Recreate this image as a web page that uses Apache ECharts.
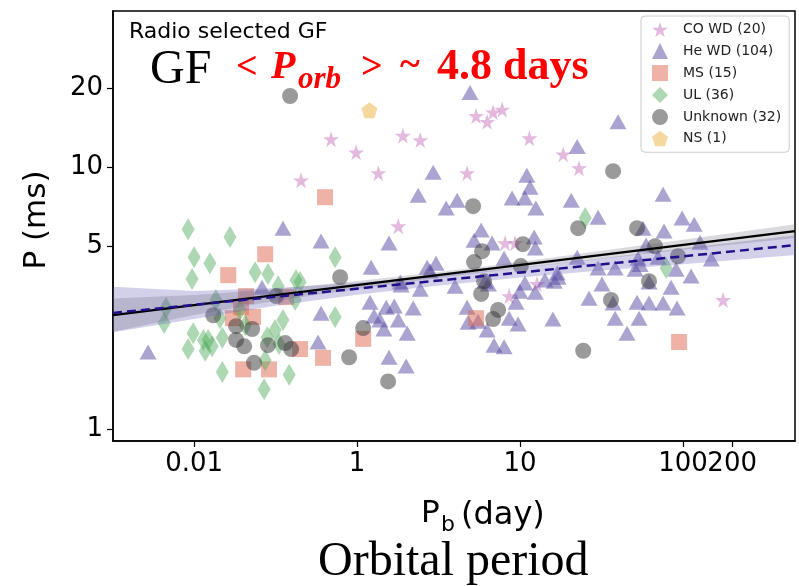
<!DOCTYPE html>
<html><head><meta charset="utf-8">
<script src="https://cdn.jsdelivr.net/npm/echarts@6/dist/echarts.min.js"></script>
<style>html,body{margin:0;padding:0;background:#fff}#c{width:799px;height:586px}</style>
</head><body><div id="c"></div>
<script>
// ---- axis ticks ----
const xTickValues = [0.1, 1, 10, 100];
const xTickLabels = ['0.01', '1', '10', '100'];
const xExtraTickValues = [200];
const xExtraTickLabels = ['200'];
const yTickValues = [1, 5, 10, 20];

// ---- legend names ----
const seriesNames = ['CO WD (20)', 'He WD (104)', 'MS (15)', 'UL (36)', 'Unknown (32)', 'NS (1)'];

// ---- data: [Pb (day), P (ms)] ----
const coWD = [[0.453,8.91],[0.692,12.8],[0.986,11.4],[1.35,9.49],[1.91,13.2],[2.44,12.7],[1.79,5.95],[4.73,9.49],[5.37,15.7],[6.28,14.9],[6.83,16.2],[7.76,16.6],[11.4,12.9],[18.4,11.2],[23.0,9.91],[8.09,5.13],[9.32,5.13],[12.7,3.58],[8.57,3.22],[176,3.11]];
const heWD = [[0.0522,1.97],[0.261,3.48],[0.351,5.85],[0.601,5.22],[0.601,2.77],[0.576,2.15],
[4.93,19.3],[2.93,9.57],[2.37,7.82],[3.52,6.98],[4.11,7.48],[1.57,5.13],[11.0,9.32],[11.5,8.39],[8.93,7.62],[10.7,7.62],[12.5,6.98],[20.6,7.48],[22.4,12.0],[30.1,6.44],[39.9,14.9],[5.77,5.75],[5.22,5.26],[6.73,5.13],[12.2,5.41],[12.4,4.91],
[1.22,4.15],[1.84,3.64],[2.44,3.42],[2.69,4.15],[3.05,4.30],[3.99,3.51],[6.10,3.67],[7.98,4.49],[10.7,3.61],[12.4,3.33],[14.2,3.71],[16.2,3.67],[16.9,3.94],[22.4,4.53],[30.1,4.12],[31.8,3.58],[26.5,3.16],[38.3,2.65],
[1.20,3.05],[1.51,2.92],[1.69,2.95],[1.27,2.70],[1.38,2.61],[1.79,2.61],[2.21,2.90],[1.46,2.41],[2.03,2.32],[1.57,1.88],[2.00,1.74],[4.73,2.92],[4.80,2.56],[6.28,2.39],[8.57,2.65],[9.72,2.52],[6.92,2.09],[7.98,2.06],[15.9,2.63],[9.45,3.05],
[75.4,7.89],[56.8,5.85],[76.4,5.70],[117,6.06],[127,5.17],[149,4.46],[59.3,5.04],[52.9,4.49],[70.3,4.53],[38.3,4.12],[50.8,4.08],[90.6,4.08],[112,3.84],[61.8,3.64],[84.4,3.48],[37.2,3.03],[52.2,3.05],[61.8,3.03],[75.4,3.03],[91.8,2.90],[53.7,2.65],[45.3,2.32],
[1.86,3.55],[2.80,4.02],[6.39,3.58],[5.52,2.58],[9.96,3.36],[17.1,3.80],[98.6,6.39],[54.5,4.25]];
const ms = [[0.636,7.68],[0.273,4.65],[0.162,3.87],[0.208,3.22],[0.194,2.92],[0.230,2.68],[0.173,2.65],[0.367,3.19],[0.447,2.02],[0.618,1.87],[0.200,1.69],[0.288,1.69],[1.09,2.21],[5.37,2.65],[94.5,2.15]];
const ul = [[0.0919,5.80],[0.166,5.41],[0.100,4.53],[0.125,4.30],[0.0972,3.74],[0.237,3.97],[0.284,3.91],[0.422,3.71],[0.328,3.51],[0.733,4.53],[0.136,3.11],[0.0673,2.90],[0.0655,2.54],[0.417,3.11],[0.0986,2.32],[0.0919,2.02],[0.117,1.99],[0.122,2.19],[0.129,2.07],[0.149,2.23],[0.144,2.65],[0.206,2.49],[0.314,2.39],[0.281,2.24],[0.332,2.11],[0.733,2.68],[0.149,1.65],[0.273,1.83],[0.383,1.61],[0.269,1.42],[25.1,6.39],[78.7,4.12],[0.447,3.64],[0.191,2.85],[0.351,2.61],[0.114,2.19]];
const unknown = [[0.388,18.7],[0.131,2.72],[0.181,2.47],[0.227,2.41],[0.181,2.19],[0.203,2.07],[0.284,2.09],[0.319,3.22],[0.362,2.13],[0.394,2.02],[0.233,1.79],[0.787,3.80],[0.893,1.88],[1.09,2.43],
[5.15,7.10],[1.55,1.52],[5.85,4.78],[5.22,4.34],[6.01,3.67],[5.77,3.28],[10.4,5.08],[10.1,4.19],[7.33,2.85],[6.83,2.63],[22.7,5.85],[24.4,1.99],[37.2,9.66],
[52.2,5.85],[67.3,4.99],[93.1,4.57],[61.8,3.67],[36.1,3.11]];
const ns = [[1.19,16.5]];

// ---- fits (endpoints) and confidence bands ----
const fitX = [0.0318, 486];
const fitAll = [2.724, 5.703];
const fitGF = [2.776, 5.038];
const bandX = [0.03, 0.1, 0.3, 1, 3, 10, 30, 100, 500];
const bandGFUpper = [3.50, 3.37, 3.451, 3.622, 3.843, 4.140, 4.470, 4.901, 5.512];
const bandGFLower = [2.33, 2.634, 2.946, 3.260, 3.518, 3.793, 4.023, 4.259, 4.623];
const bandAllUpper = [3.149, 3.248, 3.411, 3.675, 3.964, 4.347, 4.771, 5.278, 6.076];
const bandAllLower = [2.335, 2.724, 3.069, 3.425, 3.760, 4.123, 4.446, 4.834, 5.373];

const SANS = "'DejaVu Sans', sans-serif";
const SERIF = "'Liberation Serif', 'DejaVu Serif', serif";
const starPath = 'path://M50,0 L61.8,35.1 L98.9,35.1 L68.8,56.8 L79.4,91.9 L50,70.2 L20.6,91.9 L31.2,56.8 L1.1,35.1 L38.2,35.1 Z';
const pentPath = 'path://M50,0 L97.6,34.5 L79.4,90.5 L20.6,90.5 L2.4,34.5 Z';

function bandSeries(up, lo, color) {
  return {
    type: 'custom', clip: true, silent: true, z: 3,
    data: [[bandX[0], up[0]]],
    renderItem: function (params, api) {
      const pts = [];
      for (let i = 0; i < bandX.length; i++) pts.push(api.coord([bandX[i], up[i]]));
      for (let i = bandX.length - 1; i >= 0; i--) pts.push(api.coord([bandX[i], lo[i]]));
      return { type: 'polygon', shape: { points: pts }, style: { fill: color } };
    }
  };
}

function scatter(name, data, symbol, size, color) {
  return { type: 'scatter', name: name, data: data, symbol: symbol, symbolSize: size,
    itemStyle: { color: color }, z: 2 };
}

function labelFor(values, labels) {
  return function (v) {
    for (let i = 0; i < values.length; i++) {
      if (Math.abs(v - values[i]) / values[i] < 1e-6) return labels[i];
    }
    return '';
  };
}

function xAxisDef(ticks, labels, showLine) {
  return {
    type: 'log', min: 0.0318, max: 486, position: 'bottom',
    axisLine: { show: showLine, lineStyle: { color: '#000', width: 1.5 } },
    axisTick: { show: true, length: 6, lineStyle: { color: '#000', width: 1.2 }, customValues: ticks },
    axisLabel: { show: true, customValues: ticks, margin: 10, color: '#000', fontSize: 26, fontFamily: SANS,
      hideOverlap: false, formatter: labelFor(ticks, labels) },
    splitLine: { show: false }, minorTick: { show: false }
  };
}

const chart = echarts.init(document.getElementById('c'), null, { renderer: 'canvas' });
chart.setOption({
  animation: false,
  backgroundColor: '#fff',
  grid: { left: 113, right: 4, top: 11, bottom: 145, show: true, borderColor: '#000', borderWidth: 1.5, outerBoundsMode: 'none' },
  xAxis: [
    xAxisDef(xTickValues, xTickLabels, true),
    xAxisDef(xExtraTickValues, xExtraTickLabels, false)
  ],
  yAxis: {
    type: 'log', min: 0.9, max: 39.5,
    axisLine: { show: true, lineStyle: { color: '#000', width: 1.5 } },
    axisTick: { show: true, length: 6, lineStyle: { color: '#000', width: 1.2 }, customValues: yTickValues },
    axisLabel: { show: true, customValues: yTickValues, margin: 10, color: '#000', fontSize: 26, fontFamily: SANS },
    splitLine: { show: false }, minorTick: { show: false }
  },
  legend: {
    data: seriesNames, orient: 'vertical', left: 641, top: 16,
    padding: [6, 8, 6, 11], itemGap: 6, itemWidth: 16, itemHeight: 16,
    backgroundColor: 'rgba(255,255,255,0.85)', borderColor: '#cccccc', borderWidth: 1, borderRadius: 4,
    textStyle: { fontSize: 14, fontFamily: SANS, color: '#222', padding: [0, 0, 0, 10] }
  },
  series: [
    scatter(seriesNames[0], coWD, starPath, 16, 'rgba(196,110,186,0.6)'),
    scatter(seriesNames[1], heWD, 'triangle', [17, 15], 'rgba(82,70,160,0.62)'),
    scatter(seriesNames[2], ms, 'rect', 16, 'rgba(222,110,85,0.65)'),
    scatter(seriesNames[3], ul, 'diamond', [13, 22], 'rgba(80,170,90,0.58)'),
    scatter(seriesNames[4], unknown, 'circle', 16, 'rgba(50,50,50,0.62)'),
    scatter(seriesNames[5], ns, pentPath, 16, 'rgba(236,185,80,0.7)'),
    bandSeries(bandGFUpper, bandGFLower, 'rgba(110,100,185,0.30)'),
    bandSeries(bandAllUpper, bandAllLower, 'rgba(90,90,110,0.22)'),
    { type: 'line', data: fitX.map((x, i) => [x, fitAll[i]]), showSymbol: false, silent: true, z: 5,
      lineStyle: { color: '#000', width: 2.2 } },
    { type: 'line', data: fitX.map((x, i) => [x, fitGF[i]]), showSymbol: false, silent: true, z: 5,
      lineStyle: { color: '#21108a', width: 2.5, type: [9, 5] } }
  ],
  graphic: [
    { type: 'text', left: 129, top: 21, style: { text: 'Radio selected GF', fontSize: 22, fontFamily: SANS, fill: '#000' } },
    { type: 'text', x: 150, y: 70, style: { text: 'GF', fontSize: 48, fontFamily: SERIF, fill: '#000', verticalAlign: 'middle' } },
    { type: 'text', x: 236, y: 68, style: { text: '<', fontSize: 38, fontWeight: 'bold', fontFamily: SERIF, fill: '#f00', verticalAlign: 'middle' } },
    { type: 'text', x: 271, y: 68, style: { text: 'P', fontSize: 40, fontWeight: 'bold', fontStyle: 'italic', fontFamily: SERIF, fill: '#f00', verticalAlign: 'middle' } },
    { type: 'text', x: 298, y: 80, style: { text: 'orb', fontSize: 31, fontWeight: 'bold', fontStyle: 'italic', fontFamily: SERIF, fill: '#f00', verticalAlign: 'middle' } },
    { type: 'text', x: 361, y: 68, style: { text: '>', fontSize: 38, fontWeight: 'bold', fontFamily: SERIF, fill: '#f00', verticalAlign: 'middle' } },
    { type: 'text', x: 400, y: 66, style: { text: '~', fontSize: 38, fontWeight: 'bold', fontFamily: SERIF, fill: '#f00', verticalAlign: 'middle' } },
    { type: 'text', x: 437, y: 68, style: { text: '4.8 days', fontSize: 44, fontWeight: 'bold', fontFamily: SERIF, fill: '#f00', verticalAlign: 'middle' } },
    { type: 'text', x: 37, y: 220, rotation: Math.PI / 2, style: { text: 'P (ms)', fontSize: 31, fontFamily: SANS, fill: '#000', align: 'center', verticalAlign: 'middle' } },
    { type: 'text', x: 421, y: 514, style: { text: 'P', fontSize: 31, fontFamily: SANS, fill: '#000', verticalAlign: 'middle' } },
    { type: 'text', x: 441, y: 525, style: { text: 'b', fontSize: 22, fontFamily: SANS, fill: '#000', verticalAlign: 'middle' } },
    { type: 'text', x: 461, y: 516, style: { text: '(day)', fontSize: 32, fontFamily: SANS, fill: '#000', verticalAlign: 'middle' } },
    { type: 'text', x: 318, y: 562, style: { text: 'Orbital period', fontSize: 48, fontFamily: SERIF, fill: '#000', verticalAlign: 'middle' } }
  ]
});
</script></body></html>
